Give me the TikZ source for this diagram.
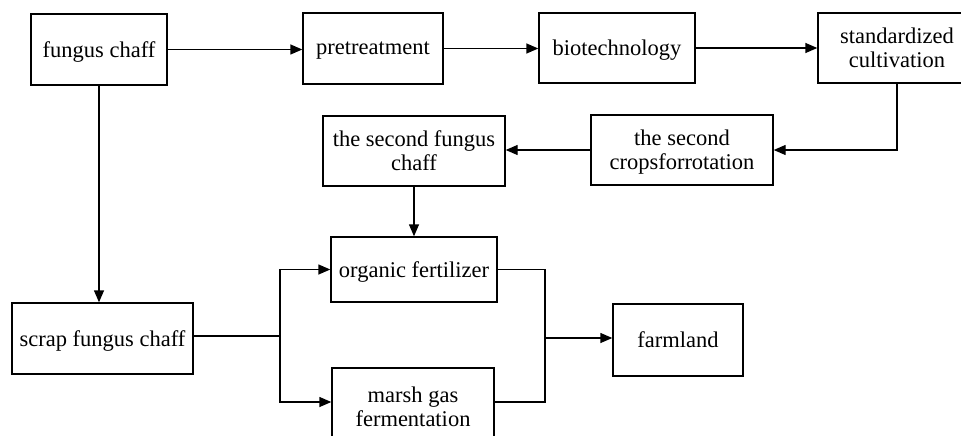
\documentclass[tikz,border=0pt]{standalone}
\usepackage{fontspec}
\setmainfont{Liberation Serif}
\usetikzlibrary{arrows.meta, positioning}

\begin{document}
\begin{tikzpicture}[x=1pt, y=-1pt,
    stage/.style={draw, rectangle, line width=1.4pt, align=center, inner sep=0pt,
                  text depth=0pt, font=\fontsize{22.5}{24}\selectfont},
    flow/.style={-{Triangle[length=12pt, width=10pt]}, line width=1.4pt},
    link/.style={line width=1.4pt}]
                \clip (0, 0) rectangle (961, 436);
                % Main chain
                \node[stage, minimum width=136pt, minimum height=71pt] (chaff) at (99, 49.5) {fungus chaff};
                \node[stage, minimum width=140pt, minimum height=71pt] (pretreat) at (373, 48.5) {pretreatment};
                \node[stage, minimum width=156pt, minimum height=70pt] (biotech) at (617, 48) {biotechnology};
                \node[stage, minimum width=158pt, minimum height=70pt] (cultiv) at (897, 48) {standardized\\cultivation};
                % Second round
                \node[stage, minimum width=182pt, minimum height=70pt] (rotation) at (682, 150) {the second\\cropsforrotation};
                \node[stage, minimum width=182pt, minimum height=70pt] (chaff2) at (414, 151) {the second fungus\\chaff};
                % Utilisation
                \node[stage, minimum width=166pt, minimum height=65pt] (fertil) at (414, 269.5) {organic fertilizer};
                \node[stage, minimum width=181pt, minimum height=71pt] (scrap) at (102.5, 338.5) {scrap fungus chaff};
                \node[stage, minimum width=162pt, minimum height=78pt] (marsh) at (413, 407) {marsh gas\\fermentation};
                \node[stage, minimum width=130pt, minimum height=72pt] (farm) at (678, 340) {farmland};

                \coordinate (split) at (280, 336);
                \coordinate (join) at (545, 338);

                % Arrows
                \draw[flow] (chaff.east) -- (chaff.east -| pretreat.west);
                \draw[flow] (pretreat.east) -- (pretreat.east -| biotech.west);
                \draw[flow] (biotech.east) -- (biotech.east -| cultiv.west);
                \draw[flow] (cultiv.south) |- (rotation.east);
                \draw[flow] (rotation.west) -- (rotation.west -| chaff2.east);
                \draw[flow] (chaff2.south) -- (fertil.north);
                \draw[flow] (chaff.south) -- (chaff.south |- scrap.north);
                \draw[link] (scrap.east |- split) -- (split);
                \draw[flow] (split) |- (fertil.west);
                \draw[flow] (split) |- ([yshift=5pt]marsh.west);
                \draw[link] (fertil.east) -| (join) |- ([yshift=5pt]marsh.east);
                \draw[flow] (join) -- (join -| farm.west);

            \end{tikzpicture}
\end{document}
